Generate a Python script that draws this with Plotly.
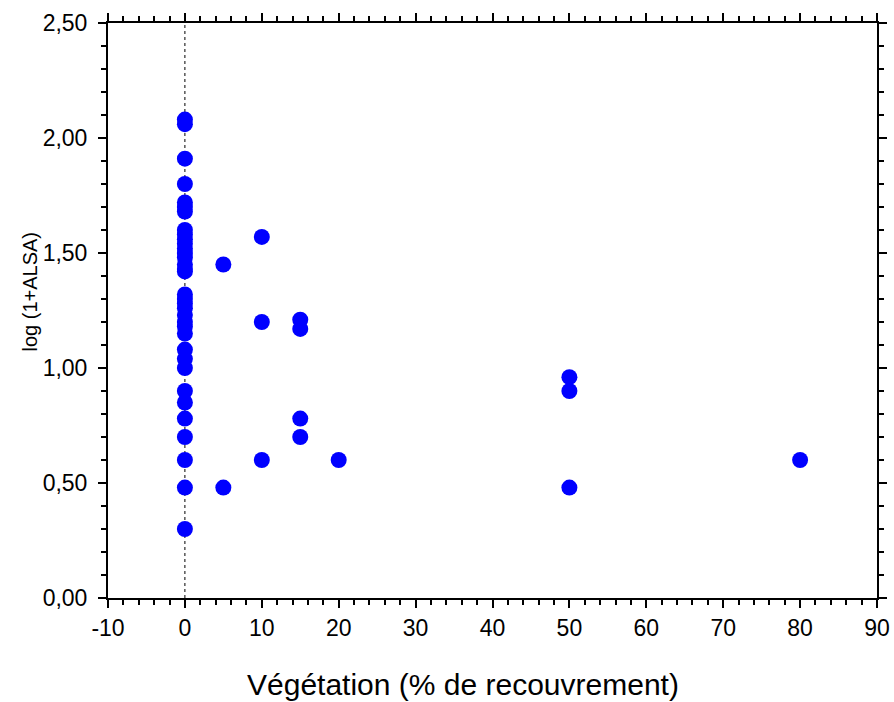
import plotly.graph_objects as go

# Data
veg_zero_y = [2.08, 2.06, 1.91, 1.80, 1.72, 1.70, 1.68, 1.60, 1.58, 1.56, 1.54,
              1.52, 1.50, 1.48, 1.45, 1.43, 1.42, 1.32, 1.30, 1.28, 1.26, 1.23,
              1.20, 1.18, 1.15, 1.08, 1.04, 1.00, 0.90, 0.85, 0.78, 0.70, 0.60,
              0.48, 0.30]
veg_other_x = [5, 5, 10, 10, 10, 15, 15, 15, 15, 20, 50, 50, 50, 80]
veg_other_y = [1.45, 0.48, 1.57, 1.20, 0.60, 1.21, 1.17, 0.78, 0.70, 0.60,
               0.96, 0.90, 0.48, 0.60]

x_vals = [0] * len(veg_zero_y) + veg_other_x
y_vals = veg_zero_y + veg_other_y

x_ticks = [-10, 0, 10, 20, 30, 40, 50, 60, 70, 80, 90]
y_ticks = [0.0, 0.5, 1.0, 1.5, 2.0, 2.5]

fig = go.Figure()
fig.add_trace(go.Scatter(
    x=x_vals, y=y_vals, mode="markers",
    marker=dict(color="#0000FF", size=16, line=dict(width=0)),
    showlegend=False, cliponaxis=False,
))

fig.add_shape(type="line", x0=0, x1=0, y0=0, y1=2.5, xref="x", yref="y",
              line=dict(color="black", width=1, dash="dot"), layer="below")

font_family = "Liberation Sans, Arial, sans-serif"
axis_common = dict(
    showline=True, linecolor="black", linewidth=2, mirror="allticks",
    ticks="outside", ticklen=8, tickwidth=2, tickcolor="black",
    showgrid=False, zeroline=False, automargin=False,
    tickfont=dict(family=font_family, size=23, color="black"),
)

fig.update_xaxes(
    range=[-10, 90], tickmode="array", tickvals=x_ticks,
    ticktext=[str(v) for v in x_ticks],
    minor=dict(dtick=2, ticklen=5, tickwidth=2, tickcolor="black", ticks="outside"),
    **axis_common,
)
fig.update_yaxes(
    range=[0, 2.5], tickmode="array", tickvals=y_ticks,
    ticktext=[f"{v:.2f}".replace(".", ",") for v in y_ticks],
    minor=dict(dtick=0.1, ticklen=5, tickwidth=2, tickcolor="black", ticks="outside"),
    ticklabelstandoff=6,
    **axis_common,
)

fig.add_annotation(
    text="Végétation (% de recouvrement)", xref="paper", yref="paper",
    x=0.462, y=0, yshift=-86, xanchor="center", yanchor="middle",
    showarrow=False, font=dict(family=font_family, size=30, color="black"),
)
fig.add_annotation(
    text="log (1+ALSA)", xref="paper", yref="paper",
    x=0, xshift=-78, y=0.533, xanchor="center", yanchor="middle",
    textangle=-90, showarrow=False,
    font=dict(family=font_family, size=20, color="black"),
)

fig.update_layout(
    width=894, height=702,
    margin=dict(l=108, r=17, t=23, b=104, autoexpand=False),
    plot_bgcolor="white", paper_bgcolor="white",
    font=dict(family=font_family, color="black"),
)

fig.write_html("out.html")
